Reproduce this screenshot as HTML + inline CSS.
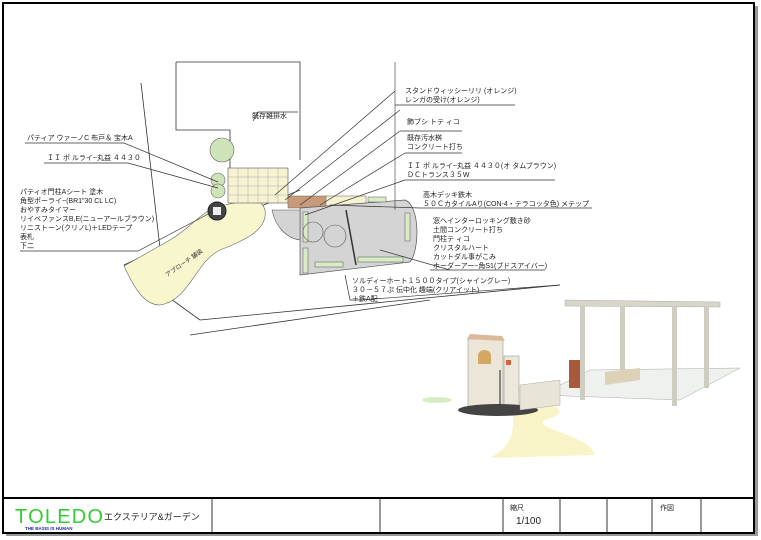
<!DOCTYPE html>
<html><head><meta charset="utf-8"><style>
html,body{margin:0;padding:0;background:#fff;}
svg{display:block;font-family:"Liberation Sans","Noto Sans CJK JP",sans-serif;}
.t{font-size:7px;fill:#222;}
</style></head><body>
<svg width="761" height="540" viewBox="0 0 761 540" xmlns="http://www.w3.org/2000/svg">
<rect x="0" y="0" width="761" height="540" fill="#fff"/>
<rect x="6" y="6" width="752" height="530" fill="#999"/>
<rect x="3" y="3" width="751" height="530" fill="#fff" stroke="#000" stroke-width="2"/>
<line x1="3" y1="498" x2="754" y2="498" stroke="#000" stroke-width="2"/>
<g stroke="#000" stroke-width="0.8">
<line x1="212" y1="498" x2="212" y2="533"/><line x1="380" y1="498" x2="380" y2="533"/>
<line x1="503" y1="498" x2="503" y2="533"/><line x1="560" y1="498" x2="560" y2="533"/>
<line x1="607" y1="498" x2="607" y2="533"/><line x1="652" y1="498" x2="652" y2="533"/>
<line x1="701" y1="498" x2="701" y2="533"/>
</g>
<text x="15" y="523" font-size="20" fill="#3c3" textLength="88">TOLEDO</text>
<text x="25" y="530" font-size="4.5" fill="#22a" font-weight="bold">THE BASIS IS HUMAN</text>
<text x="104" y="520" font-size="9" fill="#222">エクステリア&amp;ガーデン</text>
<text x="510" y="510" class="t">縮尺</text>
<text x="516" y="524" font-size="10" fill="#222">1/100</text>
<text x="660" y="510" class="t">作図</text>

<g fill="none" stroke="#333" stroke-width="0.8">
<polyline points="176,62 300,62 300,160"/>
<polyline points="176,62 176,130 230,130 230,195"/>
<line x1="141" y1="83" x2="160" y2="248"/>
<polyline points="124,265 160,248 300,190"/>
<polyline points="124,265 200,320"/>
<line x1="200" y1="320" x2="560" y2="285"/>
<line x1="190" y1="335" x2="430" y2="300"/>
</g>
<path d="M124,266 L170,240 C195,225 200,210 225,205 C250,200 260,195 265,210 C268,230 245,240 220,250 C195,262 190,300 160,305 C145,305 135,290 124,266 Z" fill="#f8f6cc" stroke="#666" stroke-width="0.6"/>
<text x="160" y="270" font-size="6" fill="#333" transform="rotate(-35 175 262)">アプローチ 舗装</text>
<circle cx="222" cy="150" r="12" fill="#cfe3b8" stroke="#666" stroke-width="0.6"/>
<circle cx="218" cy="180" r="7" fill="#cfe3b8" stroke="#666" stroke-width="0.6"/>
<circle cx="218" cy="191" r="7" fill="#cfe3b8" stroke="#666" stroke-width="0.6"/>
<circle cx="217" cy="211" r="9" fill="#444" stroke="#222"/>
<rect x="213" y="207" width="8" height="8" fill="#eee"/>
<rect x="228" y="168" width="60" height="35" fill="#f7f2d2" stroke="#555" stroke-width="0.6"/>
<g stroke="#999" stroke-width="0.4">
<line x1="238" y1="168" x2="238" y2="203"/><line x1="248" y1="168" x2="248" y2="203"/><line x1="258" y1="168" x2="258" y2="203"/><line x1="268" y1="168" x2="268" y2="203"/><line x1="278" y1="168" x2="278" y2="203"/>
<line x1="228" y1="177" x2="288" y2="177"/><line x1="228" y1="186" x2="288" y2="186"/><line x1="228" y1="195" x2="288" y2="195"/>
</g>
<rect x="288" y="196" width="40" height="12" fill="#c89a7a" stroke="#666" stroke-width="0.5"/>
<rect x="326" y="196" width="40" height="12" fill="#f7f2d2" stroke="#666" stroke-width="0.5"/>
<path d="M300,208 L405,200 C420,205 420,250 410,262 L300,275 Z" fill="#d4d4d4" stroke="#555" stroke-width="0.7"/>
<path d="M272,210 L300,210 L300,240 C285,238 275,225 272,210 Z" fill="#d4d4d4" stroke="#555" stroke-width="0.6"/>
<g fill="#d8ebc4" stroke="#555" stroke-width="0.5">
<rect x="303" y="212" width="5" height="30"/><rect x="303" y="248" width="5" height="25"/>
<rect x="368" y="197" width="18" height="5"/><rect x="405" y="213" width="5" height="28"/>
<rect x="315" y="262" width="28" height="5"/><rect x="358" y="257" width="45" height="5"/>
</g>
<circle cx="313" cy="232" r="10" fill="none" stroke="#555" stroke-width="0.6"/>
<circle cx="335" cy="236" r="11" fill="none" stroke="#555" stroke-width="0.6"/>
<line x1="346" y1="210" x2="356" y2="265" stroke="#333" stroke-width="1.5"/>
<g fill="none" stroke="#333" stroke-width="0.7">
<polyline points="25,143 124,143 218,182"/>
<polyline points="44,163 128,163 218,188"/>
<polyline points="20,251 138,251 212,212"/>
<polyline points="253,121 258,112 298,112"/>
<polyline points="275,195 395,91"/>
<polyline points="285,200 400,110"/>
<polyline points="300,205 400,131"/>
<polyline points="320,205 405,153"/>
<polyline points="305,215 405,180"/>
<polyline points="330,205 420,208"/>
<polyline points="380,250 450,270"/>
<polyline points="345,275 350,300 360,300 560,285"/>
<line x1="395" y1="105" x2="515" y2="105"/>
<line x1="400" y1="131" x2="462" y2="131"/>
<line x1="405" y1="153" x2="462" y2="153"/>
<line x1="405" y1="180" x2="555" y2="180"/>
<line x1="420" y1="208" x2="592" y2="208"/>
<line x1="430" y1="270" x2="545" y2="270"/>
</g>
<line x1="395" y1="62" x2="395" y2="210" stroke="#333" stroke-width="0.6"/>
<text x="252" y="118" class="t" font-size="6">既存雑排水</text>
<text x="27" y="140" class="t">パティア ウァーノC 布戸＆ 宝木A</text>
<text x="47" y="160" class="t">ＩＩ ポ ルライ~丸益 ４４３０</text>
<g class="t">
<text x="20" y="194">パティオ門柱Aシート 塗木</text>
<text x="20" y="203">角型ポーライ~(BR1"30 CL LC)</text>
<text x="20" y="212">おやすみタイマー</text>
<text x="20" y="221">リイベファンスB,E(ニューアールブラウン)</text>
<text x="20" y="230">リニストーン(クリノL)＋LEDテープ</text>
<text x="20" y="239">表札</text>
<text x="20" y="248">下二</text>
</g>
<g class="t">
<text x="405" y="93">スタンドウィッシーリリ (オレンジ)</text>
<text x="405" y="102">レンガの受け(オレンジ)</text>
<text x="407" y="124">飾ブシ トテ ィコ</text>
<text x="407" y="140">既存汚水桝</text>
<text x="407" y="149">コンクリート打ち</text>
<text x="407" y="168">ＩＩ ポ ルライ~丸益 ４４３０(オ タムブラウン)</text>
<text x="407" y="177">ＤＣトランス３５W</text>
<text x="423" y="197">高木デッキ鉄木</text>
<text x="423" y="206">５０ＣカタイルAり(CON-4・テラコッタ色) メテップ</text>
<text x="433" y="223">窓ヘインターロッキング敷き砂</text>
<text x="433" y="232">土間コンクリート打ち</text>
<text x="433" y="241">門柱テ ィコ</text>
<text x="433" y="250">クリスタルハート</text>
<text x="433" y="259">カットダル事がこみ</text>
<text x="433" y="268">ホーダーアー~角S1(ブドスアイバー)</text>
<text x="352" y="283">ソルディーホート１５００タイプ(シャイングレー)</text>
<text x="352" y="292">３０－５７ぷ 伝中化 趣端(クリアイット)</text>
<text x="352" y="301">＋鉄A配</text>
</g>
<path d="M590,370 L740,368 L680,400 L540,395 Z" fill="#eef1ee" stroke="#aaa" stroke-width="0.5"/>
<ellipse cx="437" cy="400" rx="15" ry="3" fill="#d8ecc4"/>
<path d="M515,402 C545,400 580,410 545,420 C530,428 590,435 595,455 L490,458 C520,440 510,430 515,402 Z" fill="#f8f4c8"/>
<rect x="468" y="339" width="35" height="68" fill="#ebe6d8" stroke="#888" stroke-width="0.5"/>
<polygon points="467,339 470,334 502,336 505,341" fill="#dcb89a"/>
<path d="M478,364 L478,356 C478,348 491,348 491,356 L491,364 Z" fill="#d4a860"/>
<rect x="504" y="356" width="15" height="50" fill="#ece8dc" stroke="#888" stroke-width="0.5"/>
<rect x="506" y="360" width="5" height="5" fill="#d6623a"/>
<ellipse cx="498" cy="410" rx="40" ry="6" fill="#444"/>
<line x1="500" y1="370" x2="500" y2="405" stroke="#222"/><line x1="525" y1="385" x2="525" y2="410" stroke="#222"/>
<polygon points="520,385 560,380 560,405 520,410" fill="#e8e4d8" stroke="#999" stroke-width="0.4"/>
<rect x="569" y="360" width="12" height="28" fill="#a85a3a"/>
<polygon points="565,300 720,302 720,307 565,306" fill="#d8d6c8" stroke="#aaa" stroke-width="0.5"/>
<g fill="#cfcdbf">
<rect x="580" y="306" width="5" height="94"/><rect x="620" y="306" width="5" height="70"/>
<rect x="672" y="306" width="5" height="100"/><rect x="704" y="306" width="5" height="82"/>
</g>
<polygon points="605,372 640,368 640,380 605,385" fill="#ddd2b8"/>
</svg>
</body></html>
